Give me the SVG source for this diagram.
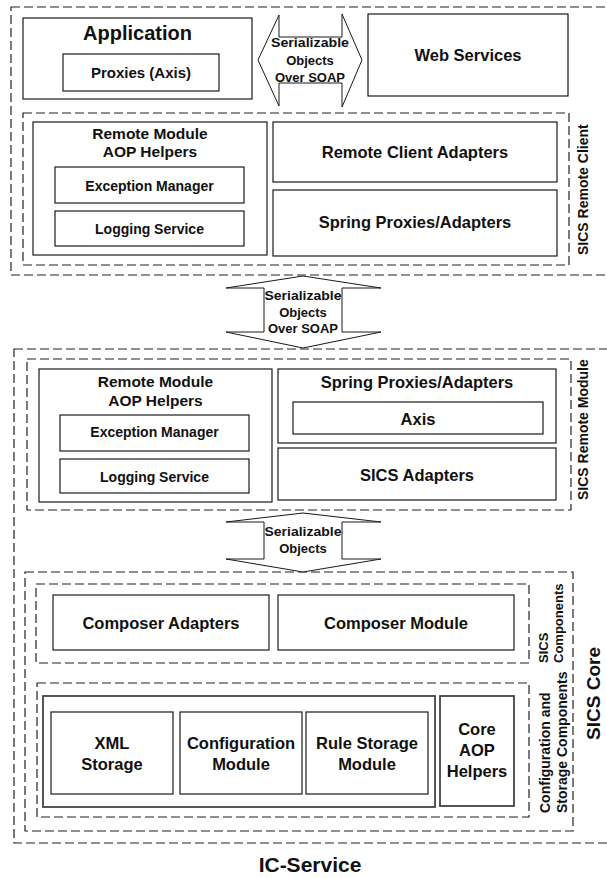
<svg xmlns="http://www.w3.org/2000/svg" width="607" height="878" viewBox="0 0 607 878">
<style>
.bg{fill:#fff}
.box{fill:#fff;stroke:#1a1a1a;stroke-width:1.2}
.box2{fill:none;stroke:#444;stroke-width:1.8}
.dash{fill:none;stroke:#222;stroke-width:1.2;stroke-dasharray:9 4}
.arrow{fill:#fff;stroke:#1a1a1a;stroke-width:1}
text{font-family:"Liberation Sans",Arial,sans-serif;font-weight:bold;fill:#111}
.c{text-anchor:middle}
.s{text-anchor:start}
.f20{font-size:20px}
.f16{font-size:16.5px}
.f15{font-size:15.5px}
.f14{font-size:14px}
.f13{font-size:13px}
.f19{font-size:19px}
.f21{font-size:21px}
</style>
<rect class="bg" x="0" y="0" width="607" height="878"/>

<g id="containers">
  <rect id="remote-client-area" class="dash" x="11" y="7" width="605" height="268"/>
  <rect id="sics-remote-client" class="dash" x="23" y="113" width="546" height="152"/>
  <rect id="ic-service" class="dash" x="14" y="349" width="602" height="494"/>
  <rect id="sics-remote-module" class="dash" x="27" y="359" width="544" height="151"/>
  <rect id="sics-core" class="dash" x="25" y="572" width="548" height="259"/>
  <rect id="sics-components" class="dash" x="36" y="584" width="493" height="79"/>
  <rect id="config-storage" class="dash" x="37" y="683" width="492" height="134"/>
</g>

<g id="connectors">
  <polygon id="arrow-top" class="arrow" points="258,60 279,15 279,37 342,37 342,14 362,60 342,107 342,83 279,83 279,106"/>
  <polygon id="arrow-mid" class="arrow" points="303,276 381,288 342,288 342,332 381,332 303,348 226,332 264,332 264,288 226,288"/>
  <polygon id="arrow-low" class="arrow" points="303,513 381,522 342,522 342,559 381,559 303,572 226,559 264,559 264,522 226,522"/>
  <text class="c f13" x="310" y="47" textLength="78" lengthAdjust="spacingAndGlyphs">Serializable</text>
  <text class="c f13" x="310" y="64.5">Objects</text>
  <text class="c f13" x="310" y="82">Over SOAP</text>
  <text class="c f13" x="303" y="300" textLength="77" lengthAdjust="spacingAndGlyphs">Serializable</text>
  <text class="c f13" x="303" y="316.5">Objects</text>
  <text class="c f13" x="303" y="333">Over SOAP</text>
  <text class="c f13" x="303" y="536" textLength="77" lengthAdjust="spacingAndGlyphs">Serializable</text>
  <text class="c f13" x="303" y="552.5">Objects</text>
</g>

<g id="application">
  <rect class="box" x="23" y="18" width="229" height="81"/>
  <text class="c f20" x="137.5" y="40">Application</text>
</g>
<g id="proxies-axis">
  <rect class="box" x="63" y="54" width="156" height="37"/>
  <text class="c" style="font-size:15px" x="141" y="78">Proxies (Axis)</text>
</g>
<g id="web-services">
  <rect class="box" x="368" y="14" width="200" height="82"/>
  <text class="c f16" x="468" y="61">Web Services</text>
</g>

<g id="rc-aop-helpers">
  <rect class="box" x="33" y="122" width="234" height="133"/>
  <text class="c f15" x="150" y="138.5">Remote Module</text>
  <text class="c f15" x="150" y="157">AOP Helpers</text>
</g>
<g id="rc-exception-manager">
  <rect class="box" x="55" y="167" width="189" height="36"/>
  <text class="c f14" x="149.5" y="190.5">Exception Manager</text>
</g>
<g id="rc-logging-service">
  <rect class="box" x="55" y="211" width="189" height="35"/>
  <text class="c f14" x="149.5" y="234">Logging Service</text>
</g>
<g id="remote-client-adapters">
  <rect class="box" x="273" y="122" width="284" height="60"/>
  <text class="c f16" x="415" y="158">Remote Client Adapters</text>
</g>
<g id="rc-spring-proxies">
  <rect class="box" x="273" y="190" width="284" height="66"/>
  <text class="c f16" x="415" y="228">Spring Proxies/Adapters</text>
</g>
<text class="s f14" transform="translate(588,255) rotate(-90)">SICS Remote Client</text>

<g id="rm-aop-helpers">
  <rect class="box" x="39" y="369" width="233" height="133"/>
  <text class="c f15" x="155.5" y="387">Remote Module</text>
  <text class="c f15" x="155.5" y="406">AOP Helpers</text>
</g>
<g id="rm-exception-manager">
  <rect class="box" x="60" y="415" width="189" height="36"/>
  <text class="c f14" x="154.5" y="437">Exception Manager</text>
</g>
<g id="rm-logging-service">
  <rect class="box" x="60" y="459" width="189" height="34"/>
  <text class="c f14" x="154.5" y="482">Logging Service</text>
</g>
<g id="rm-spring-proxies">
  <rect class="box" x="278" y="369" width="278" height="74"/>
  <text class="c f16" x="417" y="388">Spring Proxies/Adapters</text>
</g>
<g id="axis">
  <rect class="box" x="293" y="402" width="250" height="32"/>
  <text class="c f16" x="418" y="425">Axis</text>
</g>
<g id="sics-adapters">
  <rect class="box" x="278" y="448" width="278" height="52"/>
  <text class="c f16" x="417" y="480.5">SICS Adapters</text>
</g>
<text class="s f14" transform="translate(588,500) rotate(-90)">SICS Remote Module</text>

<g id="composer-adapters">
  <rect class="box" x="53" y="595" width="216" height="55"/>
  <text class="c f16" x="161" y="629">Composer Adapters</text>
</g>
<g id="composer-module">
  <rect class="box" x="278" y="595" width="236" height="55"/>
  <text class="c f16" x="396" y="629">Composer Module</text>
</g>
<text class="s f13" transform="translate(548,663) rotate(-90)">SICS</text>
<text class="s f13" transform="translate(563,663) rotate(-90)">Components</text>

<g id="storage-group">
  <rect class="box2" x="43" y="696" width="392" height="111"/>
</g>
<g id="xml-storage">
  <rect class="box" x="51" y="712" width="122" height="82"/>
  <text class="c f16" x="112" y="749">XML</text>
  <text class="c f16" x="112" y="770">Storage</text>
</g>
<g id="configuration-module">
  <rect class="box" x="180" y="712" width="122" height="82"/>
  <text class="c f16" x="241" y="749">Configuration</text>
  <text class="c f16" x="241" y="770">Module</text>
</g>
<g id="rule-storage-module">
  <rect class="box" x="306" y="712" width="122" height="82"/>
  <text class="c f16" x="367" y="749">Rule Storage</text>
  <text class="c f16" x="367" y="770">Module</text>
</g>
<g id="core-aop-helpers">
  <rect class="box2" x="440" y="696" width="74" height="110"/>
  <text class="c f16" x="477" y="735">Core</text>
  <text class="c f16" x="477" y="756">AOP</text>
  <text class="c f16" x="477" y="777">Helpers</text>
</g>
<text class="s f14" transform="translate(550,813) rotate(-90)">Configuration and</text>
<text class="s f14" transform="translate(567,813) rotate(-90)">Storage Components</text>

<text class="c f19" transform="translate(600,693.5) rotate(-90)">SICS Core</text>
<text class="c f21" x="310" y="872">IC-Service</text>
</svg>
